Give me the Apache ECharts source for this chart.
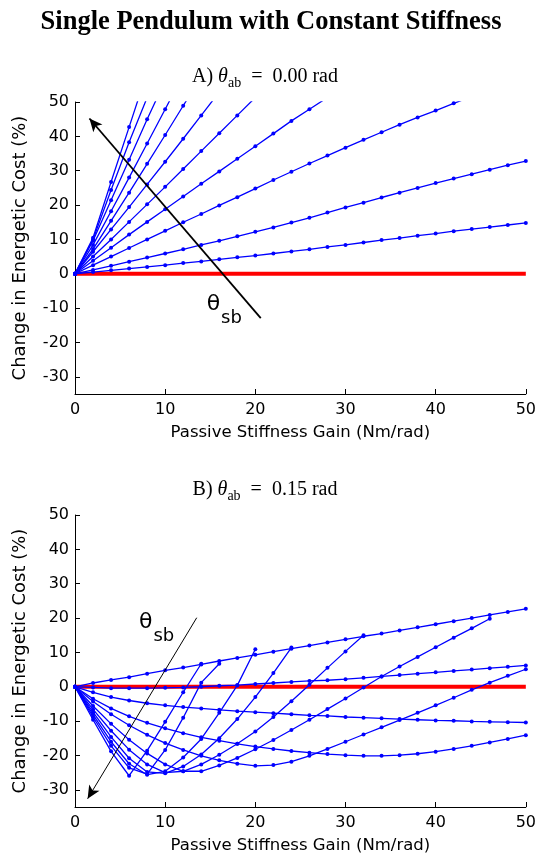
<!DOCTYPE html>
<html>
<head>
<meta charset="utf-8">
<script src="https://cdn.jsdelivr.net/npm/echarts@6/dist/echarts.min.js"></script>
<style>
  html, body { margin: 0; padding: 0; background: #ffffff; }
  #chart { width: 539px; height: 855px; }
</style>
</head>
<body>
<div id="chart"></div>
<script>
// Passive stiffness gain grid (Nm/rad); every curve is sampled on these values
const stiffness = [0, 2, 4, 6, 8, 10, 12, 14, 16, 18, 20, 22, 24, 26, 28, 30, 32, 34, 36, 38, 40, 42, 44, 46, 48, 50];

// Panel A (θab = 0.00 rad): change in energetic cost (%) for increasing slack angle θsb
const costA1 = [0, 0.5, 1.0, 1.5, 2.0, 2.5, 3.1, 3.6, 4.2, 4.8, 5.3, 5.9, 6.5, 7.1, 7.8, 8.4, 9.1, 9.8, 10.4, 11.1, 11.7, 12.4, 13.0, 13.6, 14.2, 14.8];
const costA2 = [0, 1.1, 2.3, 3.5, 4.7, 5.9, 7.1, 8.4, 9.6, 10.9, 12.2, 13.5, 14.9, 16.3, 17.8, 19.3, 20.7, 22.2, 23.6, 25.0, 26.4, 27.7, 29.0, 30.3, 31.6, 32.8];
const costA3 = [0, 2.5, 5.0, 7.5, 10.0, 12.5, 15.0, 17.4, 19.9, 22.3, 24.8, 27.3, 29.7, 32.1, 34.4, 36.7, 39.0, 41.2, 43.4, 45.5, 47.5, 49.6, 51.6];
const costA4 = [0, 3.8, 7.6, 11.4, 15.1, 18.8, 22.5, 26.2, 29.8, 33.5, 37.1, 40.8, 44.5, 47.9, 51.3];
const costA5 = [0, 5.0, 10.0, 15.1, 20.2, 25.3, 30.5, 35.7, 40.9, 46.1, 51.3];
const costA6 = [0, 6.4, 12.9, 19.4, 26.0, 32.6, 39.3, 46.1, 52.9];
const costA7 = [0, 7.2, 15.4, 23.6, 32.0, 40.4, 48.9, 57.4];
const costA8 = [0, 8.4, 18.2, 28.0, 37.9, 47.9, 57.9];
const costA9 = [0, 9.6, 21.4, 33.2, 45.0, 56.2];
const costA10 = [0, 10.0, 24.4, 38.3, 51.3];
const costA11 = [0, 10.5, 26.7, 42.7, 58.7];

// Panel B (θab = 0.15 rad)
const costB1 = [0, 1.1, 2.0, 2.8, 3.8, 4.8, 5.6, 6.5, 7.5, 8.4, 9.3, 10.2, 11.1, 12.0, 12.9, 13.8, 14.7, 15.5, 16.4, 17.3, 18.2, 19.1, 20.0, 20.9, 21.8, 22.7];
const costB2 = [0, -0.2, -0.4, -0.4, -0.4, -0.3, -0.2, 0.0, 0.3, 0.5, 0.8, 1.1, 1.4, 1.7, 1.9, 2.2, 2.6, 3.0, 3.4, 3.8, 4.2, 4.6, 5.0, 5.4, 5.8, 6.2];
const costB3 = [0, -1.6, -3.0, -4.0, -4.8, -5.4, -5.9, -6.3, -6.7, -7.1, -7.4, -7.7, -8.0, -8.3, -8.5, -8.8, -9.0, -9.2, -9.4, -9.6, -9.8, -9.9, -10.1, -10.2, -10.3, -10.4];
const costB4 = [0, -3.5, -6.3, -8.6, -10.5, -12.1, -13.5, -14.7, -15.7, -16.6, -17.4, -18.1, -18.7, -19.2, -19.6, -19.9, -20.1, -20.1, -19.9, -19.5, -18.9, -18.1, -17.2, -16.2, -15.2, -14.1];
const costB5 = [0, -4.3, -8.0, -11.2, -14.0, -16.4, -18.4, -20.1, -21.4, -22.4, -23.0, -22.8, -21.8, -20.1, -18.1, -16.0, -13.9, -11.8, -9.7, -7.6, -5.4, -3.2, -0.9, 1.2, 3.2, 5.1];
const costB6 = [0, -5.6, -10.8, -15.4, -19.4, -22.6, -24.6, -24.6, -22.9, -20.7, -18.2, -15.5, -12.6, -9.6, -6.5, -3.4, -0.2, 3.0, 5.9, 8.7, 11.5, 14.3, 17.0, 19.8];
const costB7 = [0, -6.6, -12.8, -18.3, -22.6, -25.0, -24.6, -22.6, -19.8, -16.6, -13.0, -8.8, -4.2, 0.6, 5.5, 10.3, 15.0];
const costB8 = [0, -7.4, -14.6, -20.8, -24.8, -25.2, -23.2, -19.7, -15.0, -9.4, -3.0, 4.0, 11.4];
const costB9 = [0, -8.1, -16.0, -22.4, -25.6, -24.6, -20.6, -15.2, -7.6, 0.4, 10.9];
const costB10 = [0, -8.8, -17.2, -23.6, -25.4, -18.4, -9.0, 1.2, 6.7];
const costB11 = [0, -9.6, -18.8, -25.9, -18.6, -10.2, -1.6, 6.7];

// Zero-change reference line across the stiffness range
const refStiffness = [0, 50];
const refCost = [0, 0];

// Direction of increasing θsb, drawn as arrows (stiffness, cost)
const arrowA = [[20.6, -12.9], [1.6, 45.2]];
const arrowB = [[13.5, 20.1], [1.4, -32.6]];
// Baseline-left anchor (stiffness, cost) of the θsb annotations
const noteA = [14.6, -11.1];
const noteB = [7.1, 16.7];

const costA = [costA1, costA2, costA3, costA4, costA5, costA6, costA7, costA8, costA9, costA10, costA11];
const costB = [costB1, costB2, costB3, costB4, costB5, costB6, costB7, costB8, costB9, costB10, costB11];

const BLUE = '#0000ff';
const SANS = 'DejaVu Sans';
const SERIF = 'Liberation Serif';

const pairs = vals => vals.map((v, i) => [stiffness[i], v]);

function curveSeries(vals, idx) {
  return {
    type: 'line',
    xAxisIndex: idx, yAxisIndex: idx,
    data: pairs(vals),
    symbol: 'circle', symbolSize: 4, showSymbol: true,
    lineStyle: { color: BLUE, width: 1.3 },
    itemStyle: { color: BLUE },
    clip: true, silent: true, animation: false, z: 3
  };
}

function refSeries(idx, arrow, arrowWidth) {
  return {
    type: 'line',
    xAxisIndex: idx, yAxisIndex: idx,
    data: refStiffness.map((s, i) => [s, refCost[i]]),
    symbol: 'none',
    lineStyle: { color: '#ff0000', width: 4 },
    silent: true, animation: false, z: 2,
    markLine: {
      silent: true, animation: false,
      symbol: ['none', 'arrow'], symbolSize: [9, 13],
      label: { show: false },
      lineStyle: { color: '#000000', width: arrowWidth, type: 'solid' },
      itemStyle: { color: '#000000' },
      emphasis: { disabled: true },
      data: [[{ coord: arrow[0] }, { coord: arrow[1] }]]
    }
  };
}

function xAxisFor(idx) {
  return {
    gridIndex: idx, type: 'value', min: 0, max: 50, interval: 10,
    axisLine: { show: true, onZero: false, lineStyle: { color: '#000', width: 1 } },
    axisTick: { show: true, inside: true, length: 5, lineStyle: { color: '#000' } },
    axisLabel: { color: '#000', fontSize: 16, fontFamily: SANS, margin: 8 },
    splitLine: { show: false },
    name: 'Passive Stiffness Gain (Nm/rad)', nameLocation: 'middle', nameGap: 30,
    nameTextStyle: { color: '#000', fontSize: 16.5, fontFamily: SANS }
  };
}

function yAxisFor(idx) {
  return {
    gridIndex: idx, type: 'value', min: -35, max: 50, splitNumber: 9,
    axisLine: { show: true, onZero: false, lineStyle: { color: '#000', width: 1 } },
    axisTick: { show: true, inside: true, length: 5, lineStyle: { color: '#000' } },
    axisLabel: {
      color: '#000', fontSize: 16, fontFamily: SANS, margin: 6,
      formatter: v => (Math.round(v) % 10 === 0 ? String(v) : '')
    },
    splitLine: { show: false },
    name: 'Change in Energetic Cost (%)', nameLocation: 'middle', nameGap: 46,
    nameTextStyle: { color: '#000', fontSize: 18, fontFamily: SANS }
  };
}

const series = [];
series.push(refSeries(0, arrowA, 1.8));
costA.forEach(c => series.push(curveSeries(c, 0)));
series.push(refSeries(1, arrowB, 1));
costB.forEach(c => series.push(curveSeries(c, 1)));

// Lays out a run of text pieces (with sub-/baseline shifts) on a common baseline
const measureCtx = document.createElement('canvas').getContext('2d');
function textRun(parts, x0, baseline, centered) {
  const widths = parts.map(p => {
    measureCtx.font = (p.italic ? 'italic ' : '') + (p.bold ? 'bold ' : '') + p.size + 'px "' + p.family + '"';
    return measureCtx.measureText(p.text).width + (p.kern || 0);
  });
  const total = widths.reduce((a, b) => a + b, 0);
  let x = centered ? x0 - total / 2 : x0;
  return parts.map((p, i) => {
    const el = {
      type: 'text', x: x, y: baseline + (p.dy || 0) - 0.34 * p.size,
      silent: true,
      style: {
        text: p.text, fontSize: p.size, fontFamily: p.family,
        fontStyle: p.italic ? 'italic' : 'normal', fontWeight: p.bold ? 'bold' : 'normal',
        fill: '#000', align: 'left', verticalAlign: 'middle'
      }
    };
    x += widths[i];
    return el;
  });
}

function subtitle(letter, value) {
  return [
    { text: letter + ') ', size: 20, family: SERIF },
    { text: 'θ', size: 20, family: SERIF, italic: true },
    { text: 'ab', size: 14, family: SERIF, dy: 4 },
    { text: '\u2002=\u2002', size: 20, family: SERIF },
    { text: value + ' rad', size: 20, family: SERIF }
  ];
}
const noteParts = [
  { text: 'θ', size: 22, family: SANS, kern: 1 },
  { text: 'sb', size: 18, family: SANS, dy: 13 }
];

const chart = echarts.init(document.getElementById('chart'), null, { renderer: 'canvas' });
chart.setOption({
  backgroundColor: '#ffffff',
  animation: false,
  grid: [
    { left: 75, top: 102, width: 451, height: 292 },
    { left: 75, top: 515, width: 451, height: 292 }
  ],
  xAxis: [xAxisFor(0), xAxisFor(1)],
  yAxis: [yAxisFor(0), yAxisFor(1)],
  series: series
});

const pA = chart.convertToPixel({ gridIndex: 0 }, noteA);
const pB = chart.convertToPixel({ gridIndex: 1 }, noteB);
const graphics = [].concat(
  textRun([{ text: 'Single Pendulum with Constant Stiffness', size: 26.5, family: SERIF, bold: true }], 271, 31, true),
  textRun(subtitle('A', '0.00'), 265, 84, true),
  textRun(subtitle('B', '0.15'), 265, 497, true),
  textRun(noteParts, pA[0], pA[1], false),
  textRun(noteParts, pB[0], pB[1], false)
);
chart.setOption({ graphic: graphics });
</script>
</body>
</html>
